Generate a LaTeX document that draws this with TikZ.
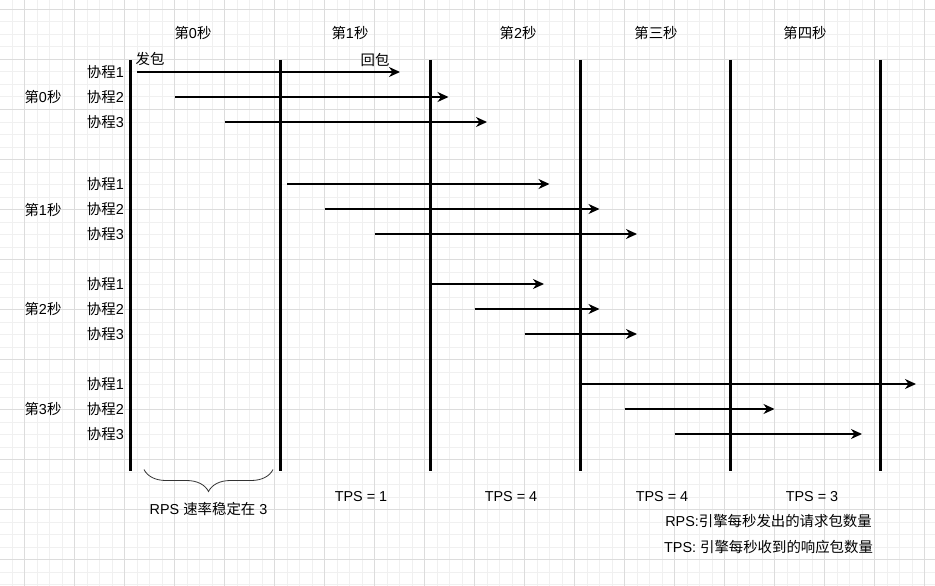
\documentclass[tikz,border=0pt]{standalone}
\usepackage{fontspec}
\setmainfont{Liberation Sans}
\newfontfamily\cjkfont{Noto Sans CJK SC}
\newcommand{\cn}[1]{{\cjkfont #1}}
\usetikzlibrary{arrows.meta,decorations.pathreplacing}
\definecolor{gridminor}{HTML}{F0F0F0}
\definecolor{gridmajor}{HTML}{DCDCDC}
\tikzset{
  lbl/.style={inner sep=0pt, anchor=center, font=\fontsize{14.4}{17}\selectfont},
  timeline/.style={line width=3pt, black},
  req/.style={line width=1.3pt, black, -{Stealth[length=11pt,width=10pt,inset=3.5pt]}},
  bracestyle/.style={decorate, decoration={brace, mirror, amplitude=22pt}, line width=0.8pt, black!80},
}
\begin{document}
\begin{tikzpicture}[x=1pt,y=-1pt]
\useasboundingbox (0,0) rectangle (935,586);
\fill[white] (0,0) rectangle (935,586);
% grid
\foreach \i in {0,...,73} \draw[gridminor, line width=1pt] ({12+12.5*\i},0) -- ({12+12.5*\i},586);
\foreach \i in {0,...,46} \draw[gridminor, line width=1pt] (0,{9.5+12.5*\i}) -- (935,{9.5+12.5*\i});
\foreach \i in {0,...,18} \draw[gridmajor, line width=1pt] ({24.5+50*\i},0) -- ({24.5+50*\i},586);
\foreach \i in {0,...,11} \draw[gridmajor, line width=1pt] (0,{9.5+50*\i}) -- (935,{9.5+50*\i});

% timelines
\foreach \k/\x in {0/130,1/280,2/430,3/580,4/730,5/880} {
  \coordinate (t\k) at (\x,60);
  \coordinate (b\k) at (\x,471);
  \draw[timeline] (t\k) -- (b\k);
}

% headers
\node[lbl] (h0) at (193,33) {\cn{第}0\cn{秒}};
\node[lbl] (h1) at (350,33) {\cn{第}1\cn{秒}};
\node[lbl] (h2) at (518,33) {\cn{第}2\cn{秒}};
\node[lbl] (h3) at (656,33) {\cn{第三秒}};
\node[lbl] (h4) at (805,33) {\cn{第四秒}};

% left labels
\node[lbl] (s0) at (43,97) {\cn{第}0\cn{秒}};
\node[lbl] (s1) at (43,210) {\cn{第}1\cn{秒}};
\node[lbl] (s2) at (43,309) {\cn{第}2\cn{秒}};
\node[lbl] (s3) at (43,409) {\cn{第}3\cn{秒}};

% coroutine labels
\foreach \g/\y in {0/72,1/184,2/284,3/384} {
  \node[lbl, anchor=east] (c\g a) at (124,\y) {\cn{协程}1};
  \node[lbl, anchor=east] (c\g b) at (124,\y+25) {\cn{协程}2};
  \node[lbl, anchor=east] (c\g c) at (124,\y+50) {\cn{协程}3};
}

\node[lbl] (send) at (150,59.5) {\cn{发包}};
\node[lbl] (recv) at (375,59.5) {\cn{回包}};

% arrows
\foreach \n/\xa/\xb/\y in {
  a0/137/400/72, a1/175/448.5/97, a2/225/487/122,
  a3/287/549.5/184, a4/325/599.5/209, a5/375/637/234,
  a6/431/544/284, a7/474.5/599.5/309, a8/524.5/637/334,
  a9/578.5/916/384, a10/624.5/774.5/409, a11/674.5/862/434} {
  \coordinate (\n s) at (\xa,\y);
  \coordinate (\n e) at (\xb,\y);
  \draw[req] (\n s) -- (\n e);
}

% brace
\coordinate (brl) at (144,469.5);
\coordinate (brr) at (273,469.5);
\draw[bracestyle] (brl) -- (brr);
\node[lbl] (rps) at (208.5,508.5) {RPS \cn{速率稳定在} 3};

\node[lbl] (tps1) at (361,497) {TPS = 1};
\node[lbl] (tps2) at (511,497) {TPS = 4};
\node[lbl] (tps3) at (662,497) {TPS = 4};
\node[lbl] (tps4) at (812,497) {TPS = 3};

\node[lbl] (legend1) at (768.5,521.5) {RPS:\cn{引擎每秒发出的请求包数量}};
\node[lbl] (legend2) at (768.5,547) {TPS: \cn{引擎每秒收到的响应包数量}};
\end{tikzpicture}
\end{document}
